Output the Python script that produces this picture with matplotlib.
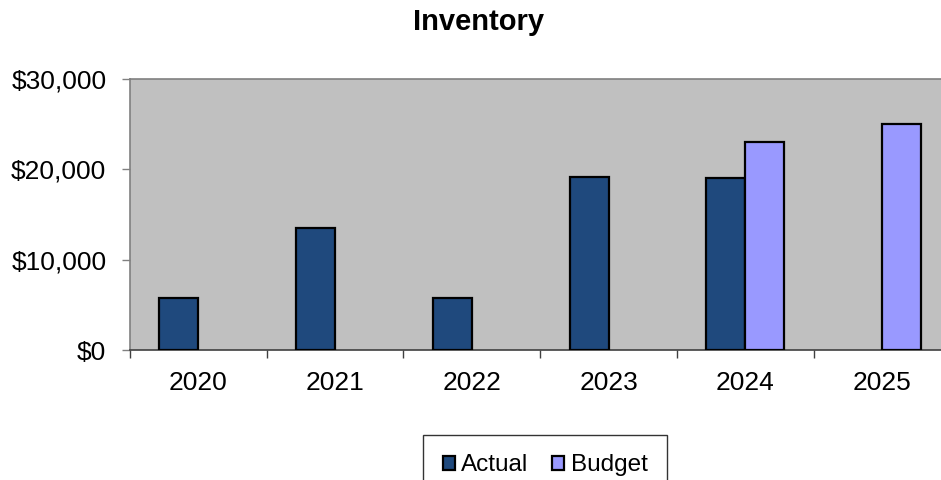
import matplotlib
matplotlib.use('Agg')
import matplotlib.pyplot as plt
import matplotlib.patches as mpatches
import numpy as np
from matplotlib.ticker import FuncFormatter

plt.rcParams['font.family'] = ['Liberation Sans', 'DejaVu Sans']

# inventory values by year (None = no bar)
years = ["2020", "2021", "2022", "2023", "2024", "2025"]
actual = [5800, 13500, 5800, 19200, 19000, None]
budget = [None, None, None, None, 23000, 25000]

actual_color = "#1F497D"
budget_color = "#9999FF"

fig = plt.figure(figsize=(9.41, 4.8), dpi=100)
ax = fig.add_axes([130 / 941, 130 / 480, 820.5 / 941, 271 / 480])
ax.set_facecolor("#C0C0C0")

x = np.arange(len(years))
w = 1 / 3.5  # gap width 150%

# only draw the years that have a value
ia = [i for i, v in enumerate(actual) if v is not None]
ib = [i for i, v in enumerate(budget) if v is not None]
ax.bar(x[ia] - w / 2, [actual[i] for i in ia], width=w, color=actual_color,
       edgecolor="black", linewidth=1.6, zorder=3)
ax.bar(x[ib] + w / 2, [budget[i] for i in ib], width=w, color=budget_color,
       edgecolor="black", linewidth=1.6, zorder=3)

ax.set_xlim(-0.5, len(years) - 0.5)
ax.set_ylim(0, 30000)
ax.set_yticks([0, 10000, 20000, 30000])
ax.yaxis.set_major_formatter(FuncFormatter(lambda v, p: "${:,.0f}".format(v)))

# year labels centred in each slot, ticks on the slot boundaries
ax.set_xticks(np.arange(len(years) + 1) - 0.5)
ax.set_xticklabels([])
ax.set_xticks(x, minor=True)
ax.set_xticklabels(years, minor=True, fontsize=19)
ax.tick_params(axis='x', which='minor', length=0, pad=15)
ax.tick_params(axis='x', which='major', length=6, color="#404040", width=1)
ax.tick_params(axis='y', length=6, color="#808080", width=1, labelsize=19, pad=11)

for s in ["top", "left", "right"]:
    ax.spines[s].set_color("#808080")
    ax.spines[s].set_linewidth(1.2)
ax.spines["bottom"].set_color("#404040")
ax.spines["bottom"].set_linewidth(1.2)

fig.text(479 / 941, 1 - 22 / 480, "Inventory", ha="center", va="center",
         fontsize=21, fontweight="bold")

handles = [mpatches.Patch(facecolor=actual_color, edgecolor="black", linewidth=1.6, label="Actual"),
           mpatches.Patch(facecolor=budget_color, edgecolor="black", linewidth=1.6, label="Budget")]
leg = fig.legend(handles=handles, loc="upper center", bbox_to_anchor=(545 / 941, 1 - 435 / 480),
                 ncol=2, fontsize=17.5, frameon=True, fancybox=False, handlelength=0.5,
                 handleheight=0.5, handletextpad=0.25, columnspacing=1.0, borderpad=0.8,
                 borderaxespad=0)
leg.get_frame().set_edgecolor("black")
leg.get_frame().set_linewidth(1)

plt.savefig("out.png", dpi=100)
